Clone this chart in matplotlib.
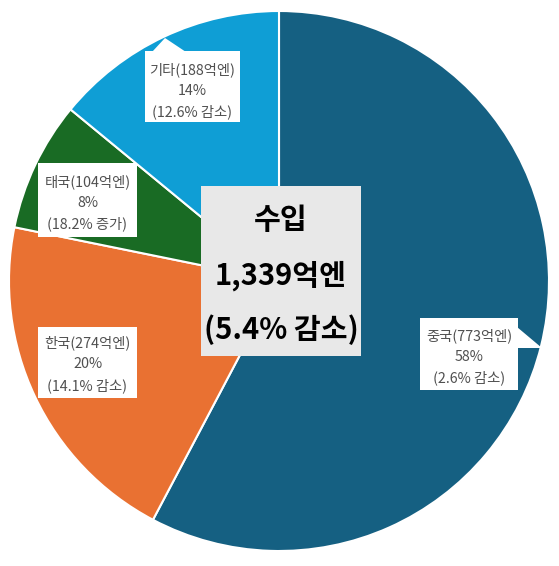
import matplotlib
matplotlib.use("Agg")
import matplotlib.pyplot as plt
from matplotlib.patches import Polygon, Rectangle

plt.rcParams['font.family'] = ['Noto Sans CJK KR', 'DejaVu Sans']

# Data
categories = ['중국', '한국', '태국', '기타']
values = [773, 274, 104, 188]          # 억엔
shares = ['58%', '20%', '8%', '14%']
changes = ['2.6% 감소', '14.1% 감소', '18.2% 증가', '12.6% 감소']
colors = ['#156082', '#E97132', '#196B24', '#0F9ED5']
center_lines = ['수입', '1,339억엔', '(5.4% 감소)']

W, H = 559, 566
fig = plt.figure(figsize=(W / 100, H / 100), dpi=100)
ax = fig.add_axes([0, 0, 1, 1])

def Y(yp):
    return H - yp

ax.pie(values, colors=colors, startangle=90, counterclock=False,
       center=(279, Y(281)), radius=270,
       wedgeprops=dict(edgecolor='white', linewidth=1.5))
ax.set_xlim(0, W)
ax.set_ylim(0, H)
ax.set_aspect('equal')
ax.axis('off')

# callout boxes: (x0, y0, x1, y1) in pixels, pointer polygon, text line y positions
callouts = {
    '중국': dict(box=(420, 318, 518, 390), ptr=[(517, 327), (542, 348), (517, 348)],
               ys=(336, 357, 378)),
    '한국': dict(box=(38, 327, 137, 398), ptr=None, ys=(343, 364, 386)),
    '태국': dict(box=(38, 163, 137, 237), ptr=None, ys=(182, 203, 224)),
    '기타': dict(box=(145, 51, 240, 122), ptr=[(152, 52), (165, 38), (186, 52)],
               ys=(70, 91, 112)),
}

for cat, val, sh, ch in zip(categories, values, shares, changes):
    c = callouts[cat]
    x0, y0, x1, y1 = c['box']
    ax.add_patch(Rectangle((x0, Y(y1)), x1 - x0, y1 - y0, facecolor='white',
                           edgecolor='none', zorder=3))
    if c['ptr']:
        ax.add_patch(Polygon([(px, Y(py)) for px, py in c['ptr']], closed=True,
                             facecolor='white', edgecolor='none', zorder=3))
    xc = (x0 + x1) / 2
    lines = [f'{cat}({val}억엔)', sh, f'({ch})']
    for txt, yy in zip(lines, c['ys']):
        ax.text(xc, Y(yy), txt, ha='center', va='center', fontsize=10.3,
                color='#505050', zorder=4)

# center box
bx0, by0, bx1, by1 = 201, 186, 361, 356
ax.add_patch(Rectangle((bx0, Y(by1)), bx1 - bx0, by1 - by0, facecolor='#E8E8E8',
                       edgecolor='none', zorder=3))
for txt, yy in zip(center_lines, (220, 276, 330)):
    ax.text((bx0 + bx1) / 2, Y(yy), txt, ha='center', va='center', fontsize=21,
            fontweight='bold', color='black', zorder=4)

fig.savefig('out.png', dpi=100)
